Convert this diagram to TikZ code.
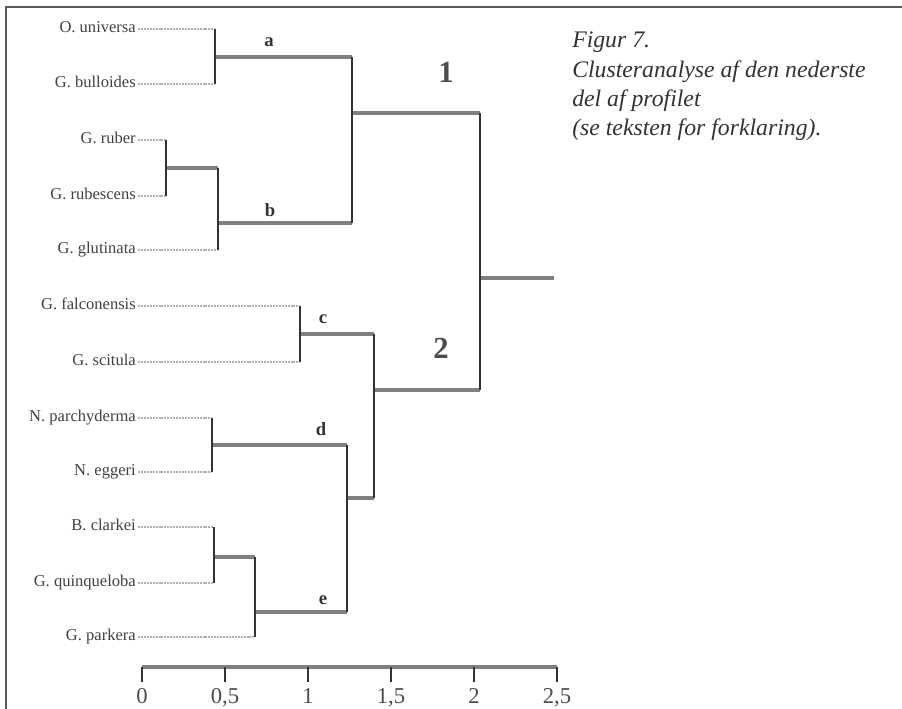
\documentclass[tikz,border=0pt]{standalone}
\usepackage{fontspec}
\setmainfont{Liberation Serif}
\begin{document}
\begin{tikzpicture}[x=0.75pt, y=-0.75pt,
        leaf/.style={anchor=mid east, inner sep=0pt, inner xsep=1.5pt, text=black!75, font=\fontsize{12.4}{14}\selectfont},
        twig/.style={gray!60, line width=1.6pt, dash pattern=on 1.5pt off 0.7pt},
        branch/.style={black!50, line width=2.4pt},
        stem/.style={black!80, line width=1.4pt},
        tag/.style={anchor=base, inner sep=0pt, text=black!80, font=\fontsize{14}{16}\selectfont\bfseries},
        group/.style={anchor=base, inner sep=0pt, text=black!70, font=\fontsize{23}{26}\selectfont\bfseries},
        num/.style={anchor=base, inner sep=0pt, text=black!70, font=\fontsize{17}{20}\selectfont}]
    \useasboundingbox (0,0) rectangle (902,709);

    % Frame
    \draw[black!65, line width=1.5pt] (6,709) -- (6,7) -- (902,7);

    % Leaves
    \node[leaf] (univ) at (138,29) {O. universa};
    \node[leaf] (bull) at (138,84) {G. bulloides};
    \node[leaf] (rub) at (138,140) {G. ruber};
    \node[leaf] (rubs) at (138,196) {G. rubescens};
    \node[leaf] (glut) at (138,250) {G. glutinata};
    \node[leaf] (falc) at (138,306) {G. falconensis};
    \node[leaf] (scit) at (138,362) {G. scitula};
    \node[leaf] (pach) at (138,418) {N. parchyderma};
    \node[leaf] (egg) at (138,472) {N. eggeri};
    \node[leaf] (clar) at (138,527) {B. clarkei};
    \node[leaf] (quin) at (138,583) {G. quinqueloba};
    \node[leaf] (park) at (138,637) {G. parkera};

    % Joins
    \coordinate (ja) at (215,57);
    \coordinate (jr) at (166,168);
    \coordinate (jb) at (218,223);
    \coordinate (j1) at (352,113);
    \coordinate (jc) at (300,334);
    \coordinate (jd) at (212,445);
    \coordinate (jq) at (214,557);
    \coordinate (je) at (255,612);
    \coordinate (jde) at (347,498);
    \coordinate (j2) at (374,390);
    \coordinate (jroot) at (480,278);
    \coordinate (rootend) at (554,278);

    % Leaf lines
    \draw[twig] (univ.mid east) -- (univ.mid east -| ja);
    \draw[twig] (bull.mid east) -- (bull.mid east -| ja);
    \draw[twig] (rub.mid east) -- (rub.mid east -| jr);
    \draw[twig] (rubs.mid east) -- (rubs.mid east -| jr);
    \draw[twig] (glut.mid east) -- (glut.mid east -| jb);
    \draw[twig] (falc.mid east) -- (falc.mid east -| jc);
    \draw[twig] (scit.mid east) -- (scit.mid east -| jc);
    \draw[twig] (pach.mid east) -- (pach.mid east -| jd);
    \draw[twig] (egg.mid east) -- (egg.mid east -| jd);
    \draw[twig] (clar.mid east) -- (clar.mid east -| jq);
    \draw[twig] (quin.mid east) -- (quin.mid east -| jq);
    \draw[twig] (park.mid east) -- (park.mid east -| je);

    % Horizontal branches
    \draw[branch] (ja) -- (ja -| j1);
    \draw[branch] (jr) -- (jr -| jb);
    \draw[branch] (jb) -- (jb -| j1);
    \draw[branch] (j1) -- (j1 -| jroot);
    \draw[branch] (jc) -- (jc -| j2);
    \draw[branch] (jd) -- (jd -| jde);
    \draw[branch] (jq) -- (jq -| je);
    \draw[branch] (je) -- (je -| jde);
    \draw[branch] (jde) -- (jde -| j2);
    \draw[branch] (j2) -- (j2 -| jroot);
    \draw[branch] (jroot) -- (rootend);

    % Vertical stems
    \draw[stem] (univ.mid east -| ja) -- (bull.mid east -| ja);
    \draw[stem] (rub.mid east -| jr) -- (rubs.mid east -| jr);
    \draw[stem] (jr -| jb) -- (glut.mid east -| jb);
    \draw[stem] (ja -| j1) -- (jb -| j1);
    \draw[stem] (j1 -| jroot) -- (j2 -| jroot);
    \draw[stem] (falc.mid east -| jc) -- (scit.mid east -| jc);
    \draw[stem] (pach.mid east -| jd) -- (egg.mid east -| jd);
    \draw[stem] (clar.mid east -| jq) -- (quin.mid east -| jq);
    \draw[stem] (jq -| je) -- (park.mid east -| je);
    \draw[stem] (jd -| jde) -- (je -| jde);
    \draw[stem] (jc -| j2) -- (jde -| j2);

    % Cluster labels
    \node[tag] (la) at (269,47) {a};
    \node[tag] (lb) at (270,217) {b};
    \node[tag] (lc) at (323,323) {c};
    \node[tag] (ld) at (321,435) {d};
    \node[tag] (le) at (323,604) {e};
    \node[group] (g1) at (446,83) {1};
    \node[group] (g2) at (441,358) {2};

    % Scale
    \coordinate (t0) at (142,667);
    \coordinate (t1) at (225,667);
    \coordinate (t2) at (308,667);
    \coordinate (t3) at (391,667);
    \coordinate (t4) at (474,667);
    \coordinate (t5) at (557,667);
    \draw[branch] (t0) -- (t5);
    \draw[stem] (t0) -- ++(0,15);
    \draw[stem] (t1) -- ++(0,15);
    \draw[stem] (t2) -- ++(0,15);
    \draw[stem] (t3) -- ++(0,15);
    \draw[stem] (t4) -- ++(0,15);
    \draw[stem] (t5) -- ++(0,15);
    \node[num] (n0) at (142,703) {0};
    \node[num] (n1) at (225,703) {0,5};
    \node[num] (n2) at (308,703) {1};
    \node[num] (n3) at (391,703) {1,5};
    \node[num] (n4) at (474,703) {2};
    \node[num] (n5) at (557,703) {2,5};

    % Caption
    \node[anchor=north west, inner sep=0pt, align=left, text=black!80,
        font=\fontsize{17.8}{22}\selectfont\itshape] (cap) at (572,32)
        {Figur 7.\\Clusteranalyse af den nederste\\del af profilet\\(se teksten for forklaring).};
\end{tikzpicture}
\end{document}
